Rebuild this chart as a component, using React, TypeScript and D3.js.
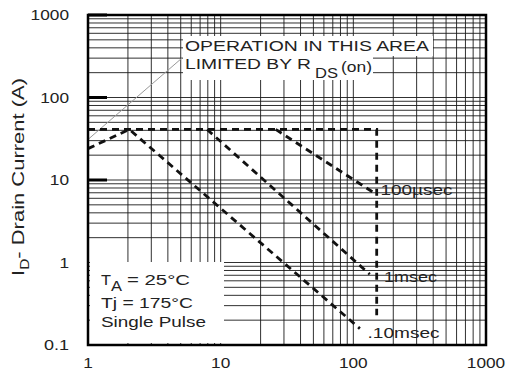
import React, { useEffect, useRef } from "react";
import * as d3 from "d3";

// values (V_DS in volts, I_D in amps)
const xTicks = [1, 10, 100, 1000];
const yTicks = [0.1, 1, 10, 100, 1000];
const rdsLimit = [
  [1, 31],
  [5.1, 300],
];
const dcLimit = [
  [1, 41],
  [150, 41],
  [150, 0.23],
];
const us100 = [
  [26, 41],
  [141, 7.1],
];
const ms1 = [
  [7.9, 41],
  [133, 0.72],
];
const ms10 = [
  [1, 24],
  [2.05, 41],
  [112, 0.158],
];
const curveLabels = [
  { text: "100µsec", x: 160, y: 7.6, len: 72 },
  { text: "1msec", x: 170, y: 0.66, len: 53 },
  { text: ".10msec", x: 128, y: 0.14, len: 72 },
];
const notes = ["T", "Tj = 175°C", "Single Pulse"];

const FONT = "'Liberation Sans', Arial, sans-serif";

// rough label widths in the reference, per character count
const tickWidth = (s: string) => s.length * 9.6;

const App = () => {
  const svgRef = useRef<SVGSVGElement>(null);

  useEffect(() => {
    const svg = d3.select(svgRef.current);
    svg.selectAll("*").remove();

    const margin = { top: 15, right: 22, bottom: 31, left: 88 };
    const W = 508;
    const H = 376;

    const x = d3
      .scaleLog()
      .domain([1, 1000])
      .range([margin.left, W - margin.right]);
    const y = d3
      .scaleLog()
      .domain([0.1, 1000])
      .range([H - margin.bottom, margin.top]);

    svg.append("rect").attr("width", W).attr("height", H).attr("fill", "#fff");

    // log grid
    const grid = svg.append("g").attr("stroke", "#1a1a1a").attr("stroke-width", 0.9);
    const xMinor: number[] = [];
    for (let d = 1; d < 1000; d *= 10) for (let k = 2; k <= 9; k++) xMinor.push(d * k);
    [...xMinor, 10, 100].forEach((v) => {
      grid
        .append("line")
        .attr("x1", x(v))
        .attr("x2", x(v))
        .attr("y1", y(1000))
        .attr("y2", y(0.1));
    });
    const yMinor: number[] = [];
    for (let d = 0.1; d < 999; d *= 10) for (let k = 2; k <= 9; k++) yMinor.push(d * k);
    [...yMinor, 1, 10, 100].forEach((v) => {
      grid
        .append("line")
        .attr("x1", x(1))
        .attr("x2", x(1000))
        .attr("y1", y(v))
        .attr("y2", y(v));
    });

    // heavy decade marks on the left edge
    [10, 100, 1000].forEach((v) => {
      svg
        .append("line")
        .attr("x1", x(1))
        .attr("x2", x(1) + 19)
        .attr("y1", y(v))
        .attr("y2", y(v))
        .attr("stroke", "#000")
        .attr("stroke-width", 3);
    });

    // white patches behind the annotations
    const patch = (x0: number, y0: number, w: number, h: number) =>
      svg.append("rect").attr("x", x0).attr("y", y0).attr("width", w).attr("height", h).attr("fill", "#fff");
    patch(183, 36, 250, 20);
    patch(183, 56, 190, 24);
    patch(90, 262, 134, 81);

    const line = d3
      .line<number[]>()
      .x((d) => x(d[0]))
      .y((d) => y(d[1]));

    svg
      .append("path")
      .attr("d", line(rdsLimit))
      .attr("fill", "none")
      .attr("stroke", "#999")
      .attr("stroke-width", 1);

    [dcLimit, us100, ms1, ms10].forEach((s) => {
      svg
        .append("path")
        .attr("d", line(s))
        .attr("fill", "none")
        .attr("stroke", "#111")
        .attr("stroke-width", 2.8)
        .attr("stroke-dasharray", "7,5");
    });

    const t = (s: string, tx: number, ty: number, len: number, size = 15) =>
      svg
        .append("text")
        .attr("x", tx)
        .attr("y", ty)
        .attr("textLength", len)
        .attr("lengthAdjust", "spacingAndGlyphs")
        .attr("font-family", FONT)
        .attr("font-size", size)
        .attr("fill", "#222")
        .text(s);

    // curve labels
    curveLabels.forEach((c) => {
      t(c.text, x(c.x), y(c.y) + 5, c.len, 14);
    });

    // region note
    t("OPERATION IN THIS AREA", 185, 51, 244);
    t("LIMITED BY R", 185, 69, 126);
    t("DS", 315, 78, 23);
    t("(on)", 341, 72, 31, 14);

    // conditions
    t(notes[0], 101, 285, 10);
    t("A", 111, 291, 11);
    t("= 25°C", 127, 285, 63);
    t(notes[1], 101, 308, 92);
    t(notes[2], 101, 327, 105);

    // frame
    svg
      .append("rect")
      .attr("x", x(1))
      .attr("y", y(1000))
      .attr("width", x(1000) - x(1))
      .attr("height", y(0.1) - y(1000))
      .attr("fill", "none")
      .attr("stroke", "#000")
      .attr("stroke-width", 2.5);

    // tick labels
    xTicks.forEach((d) => {
      const s = String(d);
      const w = tickWidth(s);
      t(s, x(d) - w / 2, H - 8, w, 14);
    });
    yTicks.forEach((d) => {
      const s = d === 0.1 ? "0.1" : String(d);
      const w = d === 0.1 ? 25 : tickWidth(s);
      t(s, 69 - w, y(d) + 5, w, 14);
    });

    // y axis title
    const yt = svg
      .append("text")
      .attr("transform", `translate(24,${(y(1000) + y(0.1)) / 2 - 3}) rotate(-90)`)
      .attr("text-anchor", "middle")
      .attr("textLength", 198)
      .attr("lengthAdjust", "spacingAndGlyphs")
      .attr("font-family", FONT)
      .attr("font-size", 17)
      .attr("fill", "#222");
    yt.append("tspan").text("I");
    yt.append("tspan").attr("dy", 5).attr("font-size", 12).text("D");
    yt.append("tspan").attr("dy", -5).text("- Drain Current (A)");
  }, []);

  return (
    <svg
      ref={svgRef}
      width={508}
      height={376}
      style={{ position: "absolute", left: 0, top: 0 }}
    ></svg>
  );
};

export default App;
